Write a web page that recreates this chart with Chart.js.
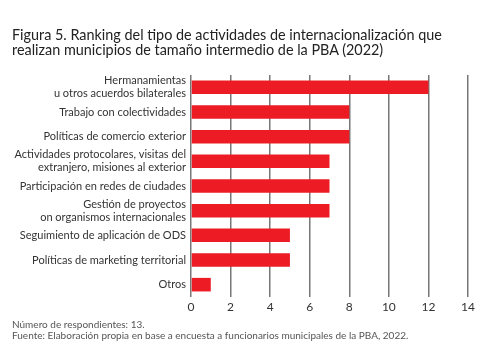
<!DOCTYPE html>
<html>
<head>
<meta charset="utf-8">
<script src="https://cdn.jsdelivr.net/npm/chart.js@4"></script>
<style>
    body {margin:0; background:#fff; font-family:Lato, sans-serif;}
    #wrap {position:relative; width:489px; height:362px; overflow:hidden;}
    #title {position:absolute; left:12px; top:27px; font-size:14.4px; line-height:15px; color:#222;}
    #notes {position:absolute; left:12px; top:319px; font-size:10px; line-height:11px; color:#555;}
    #chart {position:absolute; left:0; top:0;}
</style>
</head>
<body>
<div id="wrap">
    <canvas id="chart" width="489" height="362"></canvas>
    <div id="title">Figura 5. Ranking del tipo de actividades de internacionalización que<br>realizan municipios de tamaño intermedio de la PBA (2022)</div>
    <div id="notes">Número de respondientes: 13.<br>Fuente: Elaboración propia en base a encuesta a funcionarios municipales de la PBA, 2022.</div>
</div>
<script>
const categories = [
    ["Hermanamientas", "u otros acuerdos bilaterales"],
    "Trabajo con colectividades",
    "Políticas de comercio exterior",
    ["Actividades protocolares, visitas del", "extranjero, misiones al exterior"],
    "Participación en redes de ciudades",
    ["Gestión de proyectos", "on organismos internacionales"],
    "Seguimiento de aplicación de ODS",
    "Políticas de marketing territorial",
    "Otros"
]
const respuestas = [12, 8, 8, 7, 7, 7, 5, 5, 1]
const xTicks = [0, 2, 4, 6, 8, 10, 12, 14]

const chartElement = document.getElementById("chart")

new Chart(chartElement, {
    type: "bar",
    data: {
        labels: categories,
        datasets: [{
            data: respuestas,
            backgroundColor: "#ed1c24",
            barPercentage: 0.55,
            categoryPercentage: 1
        }]
    },
    options: {
        indexAxis: "y",
        responsive: false,
        animation: false,
        layout: {padding: {top: 75, right: 21, bottom: 47, left: 0}},
        plugins: {legend: {display: false}, tooltip: {enabled: false}},
        scales: {
            x: {
                min: 0,
                max: 14,
                afterBuildTicks: (scale) => {
                    scale.ticks = xTicks.map(v => ({value: v}))
                },
                afterFit: (scale) => { scale.height = 18 },
                grid: {color: "#777", lineWidth: 1.5, drawTicks: false},
                border: {display: false},
                ticks: {color: "#333", font: {family: "Lato", size: 12}, padding: 3}
            },
            y: {
                afterFit: (scale) => { scale.width = 191 },
                grid: {display: false, drawTicks: false},
                border: {display: false},
                ticks: {autoSkip: false, color: "#333", font: {family: "Lato", size: 11, lineHeight: 1.2}, padding: 5}
            }
        }
    }
})
</script>
</body>
</html>
